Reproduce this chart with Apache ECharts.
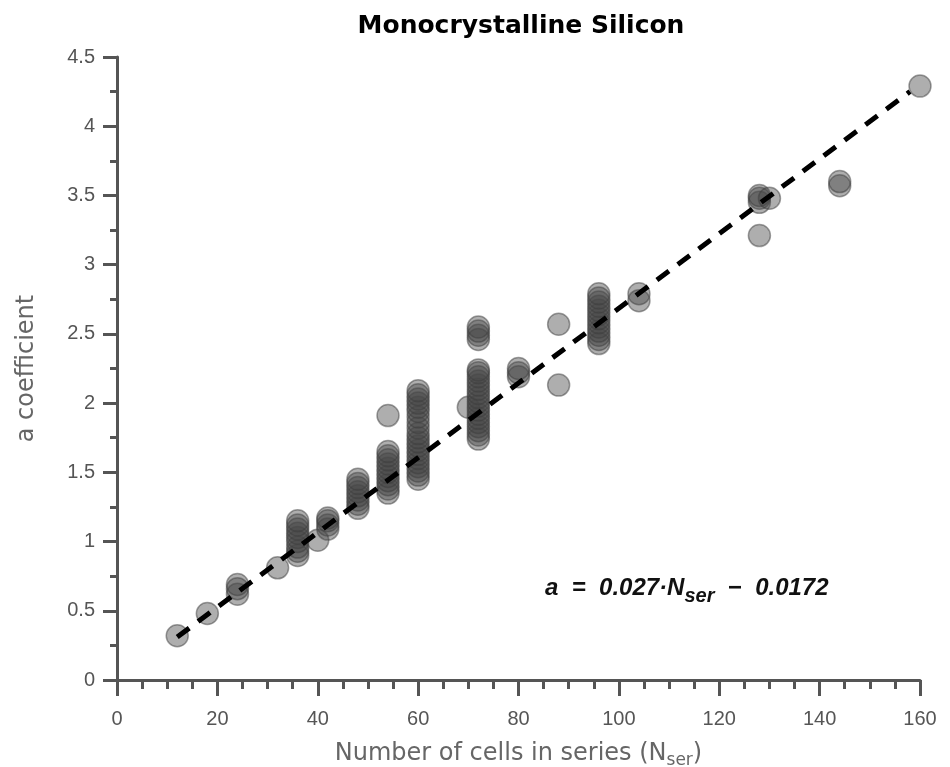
<!DOCTYPE html>
<html>
<head>
<meta charset="utf-8">
<script src="https://cdn.jsdelivr.net/npm/echarts@6/dist/echarts.min.js"></script>
<style>
  html, body { margin: 0; padding: 0; background: #fff; }
  #chart { width: 950px; height: 767px; }
</style>
</head>
<body>
<div id="chart"></div>
<script>
// cells in series (x) and measured a coefficients at each x
var nSer = [12, 18, 24, 32, 36, 40, 42, 48, 54, 60, 70, 72, 80, 88, 96, 104, 128, 130, 144, 160];
var aValues = [
    [0.32],
    [0.48],
    [0.62, 0.66, 0.69],
    [0.81],
    [0.90, 0.93, 0.96, 1.00, 1.03, 1.06, 1.09, 1.12, 1.15],
    [1.01],
    [1.09, 1.12, 1.15, 1.17],
    [1.24, 1.27, 1.30, 1.33, 1.36, 1.39, 1.42, 1.45],
    [1.35, 1.38, 1.41, 1.44, 1.47, 1.50, 1.53, 1.56, 1.59, 1.62, 1.65, 1.91],
    [1.45, 1.48, 1.51, 1.54, 1.57, 1.60, 1.63, 1.66, 1.69, 1.72, 1.75, 1.78, 1.82, 1.86, 1.90, 1.94, 1.97, 2.00, 2.03, 2.06, 2.09],
    [1.97],
    [1.74, 1.77, 1.80, 1.83, 1.86, 1.89, 1.92, 1.95, 1.98, 2.01, 2.04, 2.07, 2.10, 2.13, 2.16, 2.19, 2.22, 2.24, 2.46, 2.49, 2.52, 2.55],
    [2.19, 2.22, 2.25],
    [2.13, 2.57],
    [2.43, 2.46, 2.49, 2.52, 2.55, 2.58, 2.61, 2.64, 2.67, 2.70, 2.73, 2.76, 2.79],
    [2.74, 2.79],
    [3.21, 3.45, 3.48, 3.50],
    [3.48],
    [3.57, 3.60],
    [4.29]
];
// fitted line end points, a = 0.027*Nser - 0.0172
var fitLine = [[12, 0.31], [158, 4.25]];

var points = [];
for (var i = 0; i < nSer.length; i++) {
    for (var j = 0; j < aValues[i].length; j++) {
        points.push([nSer[i], aValues[i][j]]);
    }
}

var myChart = echarts.init(document.getElementById('chart'));

var labelFont = "'Liberation Sans', sans-serif";
var wideFont = "'DejaVu Sans', sans-serif";
var eqFont = "'Liberation Sans', Arial, sans-serif";

option = {
    backgroundColor: '#fff',
    animation: false,
    title: {
        text: 'Monocrystalline Silicon',
        left: 516,
        top: 9,
        textAlign: 'center',
        textStyle: {
            color: '#000',
            fontSize: 25,
            fontWeight: 'bold',
            fontFamily: wideFont
        }
    },
    grid: {
        left: 117,
        right: 30,
        top: 57,
        bottom: 87,
        outerBoundsMode: 'none'
    },
    xAxis: {
        type: 'value',
        min: 0,
        max: 160,
        interval: 20,
        name: '{n|Number of cells in series (N}{s|ser}{n|)}',
        nameLocation: 'middle',
        nameGap: 58,
        nameTextStyle: {
            rich: {
                n: { fontSize: 24, color: '#666', fontFamily: wideFont },
                s: { fontSize: 17, color: '#666', fontFamily: wideFont, padding: [14, 0, 0, 0] }
            }
        },
        axisLine: { lineStyle: { color: '#555', width: 3 } },
        axisTick: { length: 16, lineStyle: { color: '#555', width: 3 } },
        minorTick: { show: true, splitNumber: 4, length: 9, lineStyle: { color: '#555', width: 3 } },
        axisLabel: { fontSize: 20, color: '#555', margin: 29, fontFamily: labelFont },
        splitLine: { show: false }
    },
    yAxis: {
        type: 'value',
        min: 0,
        max: 4.5,
        interval: 0.5,
        name: 'a coefficient',
        nameLocation: 'middle',
        nameGap: 78,
        nameTextStyle: { fontSize: 24, color: '#666', fontFamily: wideFont },
        axisLine: { show: true, lineStyle: { color: '#555', width: 3 } },
        axisTick: { show: true, length: 14, lineStyle: { color: '#555', width: 3 } },
        minorTick: { show: true, splitNumber: 2, length: 7, lineStyle: { color: '#555', width: 3 } },
        axisLabel: { fontSize: 20, color: '#555', margin: 22, fontFamily: labelFont },
        splitLine: { show: false }
    },
    graphic: [
        {
            type: 'text',
            left: 545,
            top: 576,
            style: {
                text: '{a|a  =  0.027·N}{s|ser}{a|  −  0.0172}',
                rich: {
                    a: { fontSize: 24, fontWeight: 'bold', fontStyle: 'italic', fill: '#111', fontFamily: eqFont },
                    s: { fontSize: 20, fontWeight: 'bold', fontStyle: 'italic', fill: '#111', fontFamily: eqFont, padding: [16, 0, 0, 0] }
                }
            },
            z: 10
        }
    ],
    series: [
        {
            name: 'measured',
            type: 'scatter',
            symbolSize: 22,
            data: points,
            itemStyle: {
                color: 'rgba(70, 70, 70, 0.55)',
                borderColor: 'rgba(60, 60, 60, 0.6)',
                borderWidth: 1.5
            },
            z: 2
        },
        {
            name: 'fit',
            type: 'line',
            data: fitLine,
            symbol: 'none',
            lineStyle: {
                color: '#000',
                width: 5,
                type: [15, 11]
            },
            z: 3
        }
    ]
};

myChart.setOption(option);
</script>
</body>
</html>
